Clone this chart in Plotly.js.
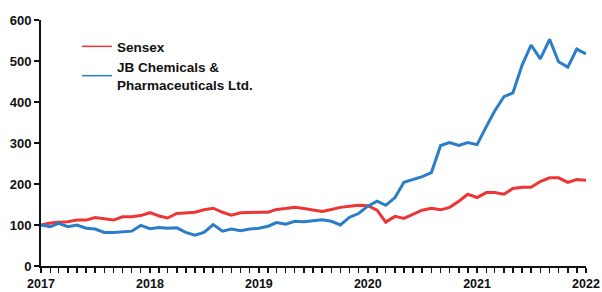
<!DOCTYPE html>
<html>
<head>
<meta charset="utf-8">
<script src="https://cdn.plot.ly/plotly-3.0.1.min.js"></script>
<style>html,body{margin:0;padding:0;background:#fff;}#chart{width:602px;height:292px;}</style>
</head>
<body>
<div id="chart"></div>
<script>
// Monthly index values, Jan 2017 .. Jan 2022 (base 100)
const startYear = 2017;
const sensex = [100,105,107,108,112,112,118,115,112,120,120,123,
                130,122,117,128,130,131,137,141,131,124,130,131,
                131,131,138,140,143,140,136,133,138,143,146,148,
                147,136,107,121,116,126,136,141,137,143,158,175,
                167,179,179,175,189,192,192,206,215,215,204,211,
                209];
const jbChem = [100,96,104,96,100,92,90,82,82,83,85,99,
                91,94,92,93,82,75,82,101,85,90,86,90,
                92,97,106,102,109,108,111,113,109,100,119,128,
                146,158,148,167,204,211,218,228,294,301,294,301,
                296,340,378,413,422,490,539,505,553,498,485,529,
                517];
const seriesNames = ["Sensex", "JB Chemicals &<br>Pharmaceuticals Ltd."];
const colors = ["#EE3535", "#2B7CC9"];

const dates = sensex.map((_, i) => {
  const y = startYear + Math.floor(i / 12);
  const m = (i % 12) + 1;
  return y + "-" + String(m).padStart(2, "0") + "-01";
});

const font = {family: "Liberation Sans, Arial, sans-serif", size: 13, color: "#111", weight: 700};
const xFont = {family: "Liberation Sans, Arial, sans-serif", size: 12.5, color: "#111", weight: 700};
const legFont = {family: "Liberation Sans, Arial, sans-serif", size: 13.5, color: "#111", weight: 700};

const traces = [
  {x: dates, y: sensex, name: seriesNames[0], type: "scatter", mode: "lines",
   line: {color: colors[0], width: 3}, showlegend: false},
  {x: dates, y: jbChem, name: seriesNames[1], type: "scatter", mode: "lines",
   line: {color: colors[1], width: 3}, showlegend: false},
  // legend entries (thin line samples as in the reference)
  {x: [null], y: [null], name: seriesNames[0], type: "scatter", mode: "lines",
   line: {color: colors[0], width: 1.5}},
  {x: [null], y: [null], name: seriesNames[1], type: "scatter", mode: "lines",
   line: {color: colors[1], width: 1.5}}
];

const layout = {
  width: 602, height: 292,
  margin: {l: 41, r: 16, t: 20, b: 26},
  paper_bgcolor: "#fff", plot_bgcolor: "#fff",
  font: font,
  showlegend: true,
  legend: {x: 0.066, y: 0.955, xanchor: "left", yanchor: "top",
           bgcolor: "rgba(0,0,0,0)", font: legFont, tracegroupgap: 0},
  xaxis: {
    type: "date", range: ["2017-01-01", "2022-01-01"],
    dtick: "M12", tick0: "2017-01-01", tickformat: "%Y",
    ticks: "outside", ticklen: 5, tickwidth: 1.5, tickcolor: "#111",
    minor: {dtick: "M1", ticks: "outside", ticklen: 5, tickwidth: 1.5, tickcolor: "#111", showgrid: false},
    showline: true, linecolor: "#111", linewidth: 2,
    showgrid: false, zeroline: false, tickfont: xFont
  },
  yaxis: {
    range: [0, 600], dtick: 100,
    ticks: "outside", ticklen: 5, tickwidth: 1.5, tickcolor: "#111",
    showline: true, linecolor: "#111", linewidth: 2,
    showgrid: false, zeroline: false, tickfont: font
  }
};

Plotly.newPlot("chart", traces, layout, {displayModeBar: false, staticPlot: true});
</script>
</body>
</html>
